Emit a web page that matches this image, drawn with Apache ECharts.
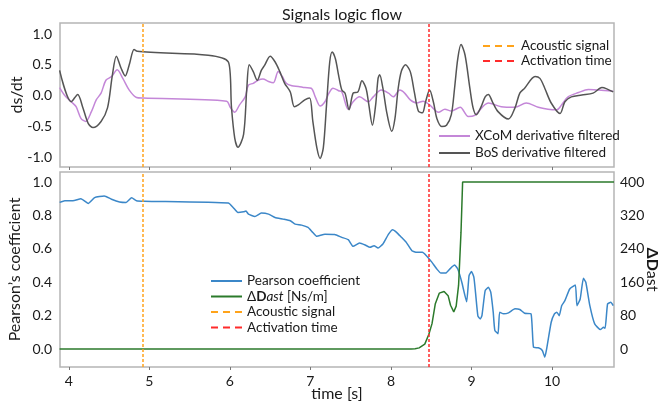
<!DOCTYPE html>
<html>
<head>
<meta charset="utf-8">
<script src="https://cdn.jsdelivr.net/npm/echarts@6/dist/echarts.min.js"></script>
<style>
  html, body { margin: 0; padding: 0; background: #fff; }
  #chart { width: 660px; height: 403px; }
</style>
</head>
<body>
<div id="chart"></div>
<script>
// tick labels
var xTicks = [4, 5, 6, 7, 8, 9, 10];
var rateTicks = [-1.0, -0.5, 0.0, 0.5, 1.0];
var pearsonTicks = [0.0, 0.2, 0.4, 0.6, 0.8, 1.0];
var dastTicks = [0, 80, 160, 240, 320, 400];

// event times [s]
var acousticTime = 4.92;
var activationTime = 8.47;

// top panel: BoS derivative filtered
var bosTime = [3.885, 4.03, 4.11, 4.17, 4.24, 4.30, 4.40, 4.48, 4.54, 4.59, 4.65, 4.70, 4.75, 4.81, 4.85,
  5.98, 6.02, 6.06, 6.10, 6.17, 6.21, 6.24, 6.29, 6.34, 6.39, 6.43, 6.50, 6.56, 6.62, 6.68, 6.75, 6.80, 6.85,
  6.93, 6.99, 7.03, 7.08, 7.12, 7.16, 7.20, 7.24, 7.27, 7.31, 7.35, 7.39, 7.43, 7.48, 7.53, 7.59, 7.64, 7.69,
  7.72, 7.77, 7.81, 7.84, 7.86, 7.90, 7.95, 8.01, 8.05, 8.09, 8.13, 8.18, 8.24, 8.29, 8.34, 8.39, 8.43, 8.48,
  8.53, 8.57, 8.63, 8.69, 8.75, 8.79, 8.83, 8.87, 8.92, 8.98, 9.02, 9.06, 9.12, 9.17, 9.21, 9.26, 9.33, 9.46,
  9.54, 9.60, 9.66, 9.79, 9.85, 9.91, 9.99, 10.10, 10.16, 10.24, 10.37, 10.51, 10.62, 10.68, 10.76];
var bosRate = [0.41, -0.10, 0.02, -0.18, -0.45, -0.52, -0.42, -0.20, 0.33, 0.64, 0.44, 0.32, 0.50, 0.75, 0.72,
  0.55, -0.20, -0.69, -0.84, -0.63, 0.12, 0.50, 0.39, 0.25, 0.41, 0.49, 0.64, 0.55, 0.39, 0.20, 0.06, -0.18, -0.15,
  -0.07, -0.04, -0.42, -0.85, -1.02, -0.85, -0.15, 0.55, 0.71, 0.60, 0.33, 0.09, 0.04, -0.23, 0.04, 0.06, 0.24, 0.12,
  -0.10, -0.48, -0.15, 0.28, 0.34, 0.12, -0.29, -0.58, -0.37, 0.12, 0.40, 0.50, 0.39, 0.06, -0.25, -0.28, -0.10, 0.09,
  -0.12, -0.37, -0.50, -0.48, -0.31, 0.12, 0.60, 0.83, 0.66, 0.12, -0.20, -0.31, -0.18, -0.02, 0.02, -0.10, -0.26, -0.38,
  -0.20, 0.04, 0.12, 0.31, 0.28, 0.12, -0.12, -0.29, -0.10, -0.02, 0.01, 0.04, 0.13, 0.11, 0.06];

// top panel: XCoM derivative filtered
var xcomTime = [3.885, 3.95, 4.03, 4.09, 4.15, 4.21, 4.28, 4.34, 4.40, 4.46, 4.53, 4.60, 4.67, 4.75, 4.84, 4.92,
  5.96, 6.00, 6.06, 6.12, 6.19, 6.23, 6.29, 6.35, 6.41, 6.48, 6.54, 6.60, 6.65, 6.70, 6.77, 6.85, 6.93, 7.01,
  7.06, 7.12, 7.18, 7.23, 7.28, 7.35, 7.39, 7.47, 7.53, 7.61, 7.72, 7.78, 7.88, 7.97, 8.03, 8.11, 8.17, 8.24,
  8.32, 8.40, 8.48, 8.59, 8.67, 8.75, 8.86, 8.96, 9.04, 9.21, 9.37, 9.54, 9.68, 9.83, 9.95, 10.06, 10.12,
  10.20, 10.33, 10.45, 10.58, 10.76];
var xcomRate = [0.13, 0.00, -0.10, -0.18, -0.37, -0.42, -0.26, -0.07, 0.04, 0.25, 0.31, 0.42, 0.28, 0.09, -0.03, -0.04,
  -0.09, -0.18, -0.27, -0.15, -0.02, 0.17, 0.20, 0.25, 0.27, 0.23, 0.21, 0.39, 0.31, 0.20, 0.16, 0.15, 0.13, 0.12,
  -0.02, -0.17, -0.10, 0.04, 0.12, 0.08, 0.06, -0.22, -0.10, -0.02, -0.10, -0.02, 0.09, 0.04, -0.02, 0.09, 0.04, -0.07,
  -0.12, -0.09, -0.15, -0.27, -0.22, -0.25, -0.19, -0.34, -0.32, -0.12, -0.18, -0.19, -0.12, -0.19, -0.22, -0.23, -0.15,
  -0.02, 0.05, 0.10, 0.09, 0.07];

// bottom panel: Pearson coefficient
var pearsonTime = [3.885, 3.95, 4.05, 4.15, 4.24, 4.32, 4.44, 4.53, 4.63, 4.71, 4.78, 4.84, 4.94,
  5.98, 6.04, 6.10, 6.17, 6.20, 6.23, 6.31, 6.39, 6.48, 6.56, 6.66, 6.75, 6.81, 6.89, 6.97, 7.03, 7.08,
  7.18, 7.30, 7.39, 7.47, 7.53, 7.61, 7.68, 7.74, 7.79, 7.84, 7.90, 7.97, 8.02, 8.07, 8.13, 8.19, 8.26,
  8.32, 8.39, 8.44, 8.51, 8.57, 8.62, 8.68, 8.73, 8.79, 8.83, 8.88, 8.94, 8.97, 9.00, 9.03, 9.05, 9.08,
  9.11, 9.13, 9.17, 9.21, 9.24, 9.27, 9.29, 9.33, 9.35, 9.40, 9.46, 9.54, 9.60, 9.66, 9.74, 9.77, 9.83,
  9.88, 9.91, 9.93, 9.99, 10.03, 10.06, 10.09, 10.12, 10.16, 10.22, 10.29, 10.31, 10.35, 10.39, 10.42,
  10.47, 10.53, 10.60, 10.64, 10.66, 10.69, 10.73, 10.76];
var pearsonVal = [0.878, 0.888, 0.888, 0.900, 0.872, 0.907, 0.917, 0.897, 0.881, 0.878, 0.906, 0.888, 0.885,
  0.874, 0.848, 0.818, 0.822, 0.826, 0.808, 0.794, 0.814, 0.808, 0.788, 0.778, 0.768, 0.748, 0.742, 0.728, 0.698, 0.675,
  0.688, 0.686, 0.669, 0.655, 0.615, 0.635, 0.623, 0.609, 0.619, 0.605, 0.629, 0.688, 0.715, 0.699, 0.669, 0.639, 0.589,
  0.579, 0.579, 0.559, 0.519, 0.479, 0.455, 0.455, 0.479, 0.503, 0.479, 0.400, 0.283, 0.440, 0.464, 0.430, 0.340, 0.197,
  0.181, 0.200, 0.350, 0.370, 0.340, 0.221, 0.112, 0.092, 0.221, 0.211, 0.217, 0.241, 0.237, 0.215, 0.211, 0.012, 0.008,
  -0.008, -0.048, -0.008, 0.161, 0.211, 0.221, 0.200, 0.260, 0.290, 0.360, 0.384, 0.260, 0.300, 0.424, 0.400,
  0.260, 0.151, 0.117, 0.131, 0.125, 0.270, 0.280, 0.260];

// bottom panel: ΔDast [Ns/m]
var dastTime = [3.885, 8.25, 8.30, 8.35, 8.42, 8.47, 8.51, 8.55, 8.60, 8.66, 8.71, 8.74, 8.78, 8.81, 8.84, 8.87, 8.89, 10.77];
var dastVal = [0, 0, 1, 3, 12, 35, 61, 108, 134, 138, 128, 105, 89, 103, 153, 280, 400, 400];

var FONT = 'Lato';
var TXT = '#1a1a1a';
var ORANGE = '#ffa31a';
var RED = '#ff2b2b';

function zip(a, b) {
    var out = [];
    for (var i = 0; i < a.length; i++) out.push([a[i], b[i]]);
    return out;
}

function fmt1(v) {
    return (Math.abs(v) < 1e-9 ? 0 : v).toFixed(1);
}

function eventSeries(name, time, color, xi, yi) {
    return {
        name: name, type: 'line', xAxisIndex: xi, yAxisIndex: yi, data: [],
        symbol: 'none', color: color,
        lineStyle: { color: color, width: 1.5, type: [3, 2] },
        markLine: {
            silent: true, symbol: 'none', animation: false,
            label: { show: false },
            lineStyle: { color: color, width: 1.5, type: [3, 2] },
            data: [{ xAxis: time }]
        }
    };
}

var dastName = 'ΔDast [Ns/m]';
var hideSym = { opacity: 0 };

var option = {
    animation: false,
    backgroundColor: '#fff',
    textStyle: { fontFamily: FONT, color: TXT },
    title: {
        text: 'Signals logic flow', left: 337, top: 2, textAlign: 'center',
        textStyle: { fontFamily: FONT, fontSize: 16, fontWeight: 'normal', color: TXT }
    },
    grid: [
        { left: 60, top: 23, width: 554, height: 144, outerBoundsMode: 'none', containLabel: false,
          show: true, borderColor: '#b5b5b5', borderWidth: 1.5 },
        { left: 60, top: 172, width: 554, height: 195, outerBoundsMode: 'none', containLabel: false,
          show: true, borderColor: '#b5b5b5', borderWidth: 1.5 }
    ],
    legend: [
        {
            orient: 'vertical', left: 477, top: 34, itemWidth: 33, itemHeight: 15, itemGap: 1,
            textStyle: { fontFamily: FONT, fontSize: 13.5, color: TXT },
            itemStyle: hideSym,
            lineStyle: { type: [7, 5], width: 2 },
            data: ['Acoustic signal', 'Activation time']
        },
        {
            orient: 'vertical', left: 433, top: 124, itemWidth: 31, itemHeight: 15, itemGap: 3,
            textStyle: { fontFamily: FONT, fontSize: 13.5, color: TXT },
            itemStyle: hideSym,
            lineStyle: { width: 2 },
            data: ['XCoM derivative filtered', 'BoS derivative filtered']
        },
        {
            orient: 'vertical', left: 205, top: 269, itemWidth: 31, itemHeight: 15, itemGap: 1.5,
            itemStyle: hideSym,
            textStyle: {
                fontFamily: FONT, fontSize: 13.5, color: TXT,
                rich: {
                    n: { fontFamily: FONT, fontSize: 13.5, color: TXT },
                    b: { fontFamily: FONT, fontSize: 13.5, color: TXT, fontWeight: 'bold' },
                    i: { fontFamily: FONT, fontSize: 13.5, color: TXT, fontStyle: 'italic' }
                }
            },
            formatter: function (name) {
                if (name === dastName) return '{n|Δ}{b|D}{i|ast}{n| [Ns/m]}';
                return name;
            },
            data: [
                { name: 'Pearson coefficient', lineStyle: { width: 2 } },
                { name: dastName, lineStyle: { width: 2 } },
                { name: 'Acoustic signal', lineStyle: { type: [7, 5], width: 2 } },
                { name: 'Activation time', lineStyle: { type: [7, 5], width: 2 } }
            ]
        }
    ],
    xAxis: [
        {
            gridIndex: 0, type: 'value', min: 3.89, max: 10.77,
            axisLine: { show: false, onZero: false },
            axisTick: { show: true, customValues: xTicks, length: 3, lineStyle: { color: '#777' } },
            axisLabel: { show: false },
            splitLine: { show: false }
        },
        {
            gridIndex: 1, type: 'value', min: 3.89, max: 10.77,
            axisLine: { show: false, onZero: false },
            axisTick: { show: true, customValues: xTicks, length: 3, lineStyle: { color: '#777' } },
            axisLabel: { customValues: xTicks, fontFamily: FONT, fontSize: 14, color: TXT, margin: 7 },
            splitLine: { show: false },
            name: 'time [s]', nameLocation: 'middle', nameGap: 19, nameMoveOverlap: false,
            nameTextStyle: { fontFamily: FONT, fontSize: 16, color: TXT }
        }
    ],
    yAxis: [
        {
            gridIndex: 0, type: 'value', min: -1.16, max: 1.18,
            axisLine: { show: false, onZero: false },
            axisTick: { show: false },
            axisLabel: { customValues: rateTicks, formatter: fmt1, fontFamily: FONT, fontSize: 14, color: TXT, margin: 8 },
            splitLine: { show: false },
            name: 'ds/dt', nameLocation: 'middle', nameGap: 35, nameMoveOverlap: false,
            nameTextStyle: { fontFamily: FONT, fontSize: 16, color: TXT }
        },
        {
            gridIndex: 1, type: 'value', min: -0.107, max: 1.06,
            axisLine: { show: false, onZero: false },
            axisTick: { show: false },
            axisLabel: { customValues: pearsonTicks, formatter: fmt1, fontFamily: FONT, fontSize: 14, color: TXT, margin: 8 },
            splitLine: { show: false },
            name: 'Pearson’s coefficient', nameLocation: 'middle', nameGap: 37, nameMoveOverlap: false,
            nameTextStyle: { fontFamily: FONT, fontSize: 16, color: TXT }
        },
        {
            gridIndex: 1, type: 'value', position: 'right', min: -42.8, max: 424,
            axisLine: { show: false, onZero: false },
            axisTick: { show: false },
            axisLabel: { customValues: dastTicks, fontFamily: FONT, fontSize: 14, color: TXT, margin: 6 },
            splitLine: { show: false },
            name: '{b|ΔD}{n|ast}', nameLocation: 'middle', nameGap: 30, nameRotate: -90, nameMoveOverlap: false,
            nameTextStyle: {
                fontFamily: FONT, fontSize: 16, color: TXT,
                rich: {
                    b: { fontFamily: FONT, fontSize: 16, fontWeight: 'bold', color: TXT },
                    n: { fontFamily: FONT, fontSize: 16, color: TXT }
                }
            }
        }
    ],
    series: [
        {
            name: 'XCoM derivative filtered', type: 'line', xAxisIndex: 0, yAxisIndex: 0,
            data: zip(xcomTime, xcomRate), symbol: 'none', smooth: 0.3, color: '#c487d8',
            lineStyle: { color: '#c487d8', width: 1.5 }
        },
        {
            name: 'BoS derivative filtered', type: 'line', xAxisIndex: 0, yAxisIndex: 0,
            data: zip(bosTime, bosRate), symbol: 'none', smooth: 0.3, color: '#555555',
            lineStyle: { color: '#555555', width: 1.5 }
        },
        eventSeries('Acoustic signal', acousticTime, ORANGE, 0, 0),
        eventSeries('Activation time', activationTime, RED, 0, 0),
        {
            name: 'Pearson coefficient', type: 'line', xAxisIndex: 1, yAxisIndex: 1,
            data: zip(pearsonTime, pearsonVal), symbol: 'none', smooth: 0.15, color: '#3b87c8',
            lineStyle: { color: '#3b87c8', width: 1.5 }
        },
        {
            name: dastName, type: 'line', xAxisIndex: 1, yAxisIndex: 2,
            data: zip(dastTime, dastVal), symbol: 'none', smooth: false, color: '#2b7a2b',
            lineStyle: { color: '#2b7a2b', width: 1.5 }
        },
        eventSeries('Acoustic signal', acousticTime, ORANGE, 1, 1),
        eventSeries('Activation time', activationTime, RED, 1, 1)
    ]
};

var myChart = echarts.init(document.getElementById('chart'), null, { renderer: 'canvas' });
myChart.setOption(option, true);
</script>
</body>
</html>
